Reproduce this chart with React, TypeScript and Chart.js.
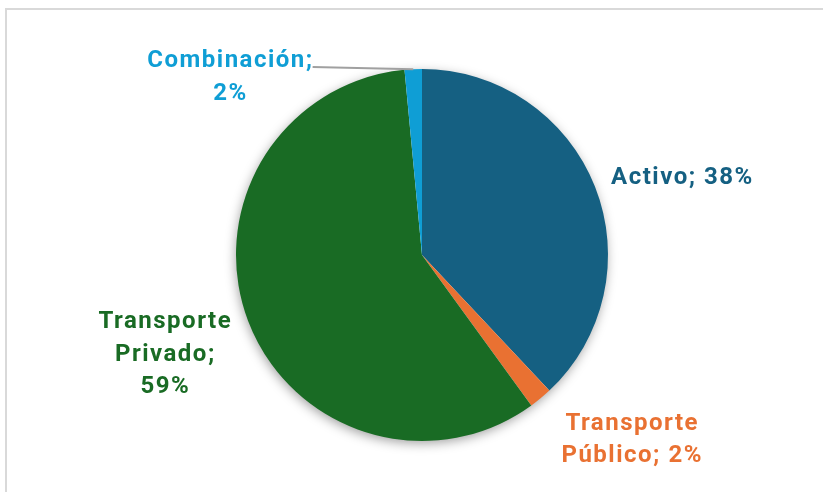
import { useEffect, useRef } from 'react';
import { Chart, registerables } from 'chart.js';

Chart.register(...registerables);

// ---- data ----
const categories = ['Activo', 'Transporte Público', 'Transporte Privado', 'Combinación'];
const values = [38, 2, 58.5, 1.5];
const colors = ['#156082', '#E97132', '#196B24', '#0F9ED5'];

// ---- label layout (offsets in units of pie radius, words per line) ----
const labelDx = [1.4, 1.13, -1.38, -1.03];
const labelDy = [-0.415, 0.995, 0.535, -0.955];
const labelWordsPerLine = [[2], [1, 2], [1, 1, 1], [1, 1]];
const labelLeader = [false, false, false, true];

const FONT = 'bold 24px Roboto';
const LETTER_SPACING = '1.5px';
const LINE_HEIGHT = 32.5;

const framePlugin = {
  id: 'frame',
  beforeDraw(chart: any) {
    const ctx = chart.ctx as CanvasRenderingContext2D;
    ctx.save();
    ctx.fillStyle = '#ffffff';
    ctx.fillRect(0, 0, chart.width, chart.height);
    ctx.strokeStyle = '#d9d9d9';
    ctx.lineWidth = 2;
    ctx.strokeRect(6, 9, chart.width + 20, chart.height + 20);
    ctx.restore();
  },
};

const shadowPlugin = {
  id: 'pieShadow',
  beforeDatasetsDraw(chart: any) {
    const ctx = chart.ctx as CanvasRenderingContext2D;
    const arc = chart.getDatasetMeta(0).data[0];
    if (!arc) return;
    const { x, y, outerRadius } = arc.getProps(['x', 'y', 'outerRadius'], true);
    ctx.save();
    ctx.shadowColor = 'rgba(0,0,0,0.4)';
    ctx.shadowBlur = 12;
    ctx.shadowOffsetX = -1;
    ctx.shadowOffsetY = 3;
    ctx.beginPath();
    ctx.arc(x, y, outerRadius - 1, 0, Math.PI * 2);
    ctx.fillStyle = '#ffffff';
    ctx.fill();
    ctx.restore();
  },
};

const labelPlugin = {
  id: 'pieLabels',
  afterDatasetsDraw(chart: any) {
    const ctx = chart.ctx as CanvasRenderingContext2D;
    const meta = chart.getDatasetMeta(0);
    const total = values.reduce((a, b) => a + b, 0);
    meta.data.forEach((arc: any, i: number) => {
      const { x, y, outerRadius, startAngle, endAngle } = arc.getProps(
        ['x', 'y', 'outerRadius', 'startAngle', 'endAngle'],
        true
      );
      const pct = Math.round((values[i] / total) * 100);
      const words = `${categories[i]};`.split(' ').concat([`${pct}%`]);
      const lines: string[] = [];
      let k = 0;
      for (const n of labelWordsPerLine[i]) {
        lines.push(words.slice(k, k + n).join(' '));
        k += n;
      }
      const cx = x + labelDx[i] * outerRadius;
      const cy = y + labelDy[i] * outerRadius;
      ctx.save();
      ctx.font = FONT;
      (ctx as any).letterSpacing = LETTER_SPACING;
      ctx.fillStyle = colors[i];
      ctx.textAlign = 'center';
      ctx.textBaseline = 'middle';
      const y0 = cy - ((lines.length - 1) * LINE_HEIGHT) / 2;
      lines.forEach((ln, j) => {
        ctx.fillText(ln, cx, y0 + j * LINE_HEIGHT);
      });
      if (labelLeader[i]) {
        const w = ctx.measureText(lines[0]).width;
        const mid = (startAngle + endAngle) / 2;
        const ex = x + Math.cos(mid) * outerRadius;
        const ey = y + Math.sin(mid) * outerRadius;
        ctx.beginPath();
        ctx.moveTo(cx + w / 2 - 1, y0 + 6);
        ctx.lineTo(ex, ey);
        ctx.strokeStyle = '#a0a0a0';
        ctx.lineWidth = 2;
        ctx.stroke();
      }
      ctx.restore();
    });
  },
};

export default function App() {
  const ref = useRef<HTMLCanvasElement>(null);
  useEffect(() => {
    if (!ref.current) return;
    const chart = new Chart(ref.current, {
      type: 'pie',
      data: {
        labels: categories,
        datasets: [
          {
            data: values,
            backgroundColor: colors,
            borderWidth: 0,
          },
        ],
      },
      options: {
        responsive: false,
        animation: false,
        layout: { padding: { top: 69, bottom: 51, left: 236, right: 215 } },
        plugins: {
          legend: { display: false },
          tooltip: { enabled: false },
        },
      },
      plugins: [framePlugin, shadowPlugin, labelPlugin],
    });
    return () => chart.destroy();
  }, []);
  return (
    <div style={{ position: 'absolute', left: 0, top: 0, width: 823, height: 492, background: '#fff' }}>
      <canvas ref={ref} width={823} height={492} style={{ display: 'block' }} />
    </div>
  );
}
